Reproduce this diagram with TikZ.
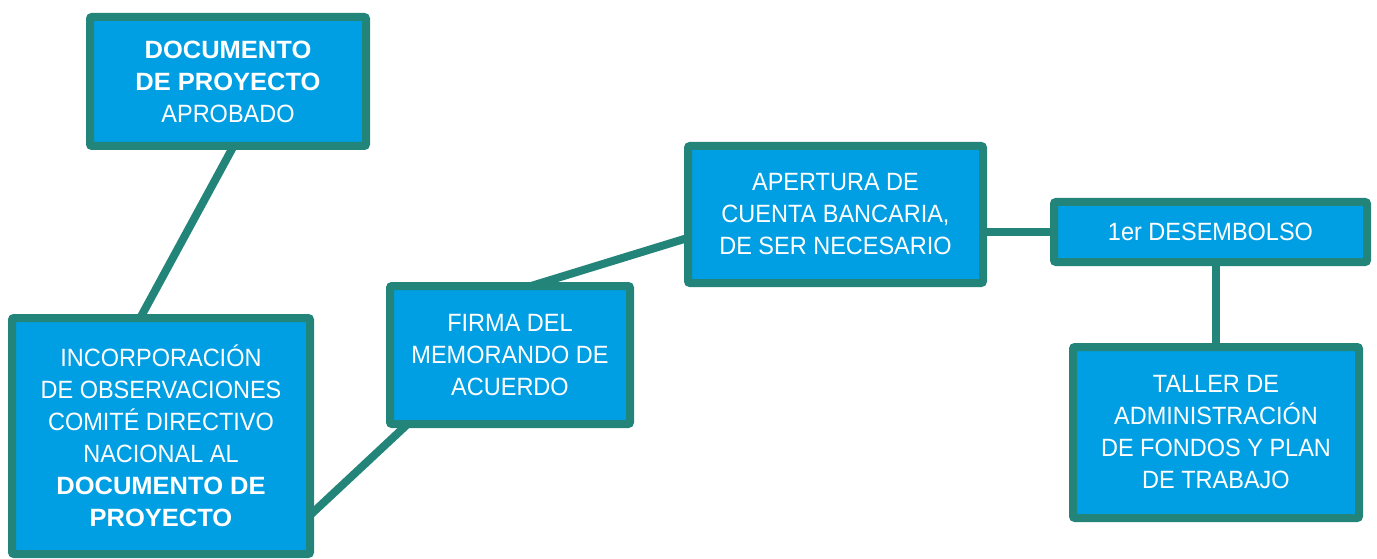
\documentclass[tikz,border=0pt]{standalone}
\usepackage{fontspec}
\setmainfont{Liberation Sans}[UprightFeatures={FakeStretch=0.94}, BoldFeatures={FakeStretch=1.02}]
\usetikzlibrary{backgrounds}
\definecolor{azul}{HTML}{009FE3}
\definecolor{verde}{HTML}{23857A}

\begin{document}
\begin{tikzpicture}[x=1pt,y=-1pt]
\tikzstyle{etapa} = [draw=verde, line width=8pt, fill=azul, rounded corners=2pt,
   text=white, align=center, inner sep=0pt, outer sep=0pt,
   font=\fontsize{25}{32}\selectfont]
\tikzstyle{enlace} = [draw=verde, line width=8pt]
\useasboundingbox (0,0) rectangle (1377,559);

\node[etapa, minimum width=276pt, minimum height=129pt] at (228,81.5) (aprobado){\textbf{DOCUMENTO}\\\textbf{DE PROYECTO}\\APROBADO};

\node[etapa, minimum width=298pt, minimum height=236pt] at (161,436) (observaciones){INCORPORACIÓN\\DE OBSERVACIONES\\COMITÉ DIRECTIVO\\NACIONAL AL\\\textbf{DOCUMENTO DE}\\\textbf{PROYECTO}};

\node[etapa, minimum width=240pt, minimum height=138pt] at (510,355) (memorando){FIRMA DEL\\MEMORANDO DE\\ACUERDO};

\node[etapa, minimum width=295pt, minimum height=137pt] at (835.5,214.5) (cuenta){APERTURA DE\\CUENTA BANCARIA,\\DE SER NECESARIO};

\node[etapa, minimum width=313pt, minimum height=60pt] at (1210.5,232) (desembolso){1er DESEMBOLSO};

\node[etapa, minimum width=286pt, minimum height=171pt] at (1216,432.5) (taller){TALLER DE\\ADMINISTRACIÓN\\DE FONDOS Y PLAN\\DE TRABAJO};

\begin{scope}[on background layer]
\draw [enlace](aprobado.-85.6) -- (observaciones.100);
\draw [enlace](memorando.214.9) -- (observaciones.-28.2);
\draw [enlace](memorando.73.8) -- (cuenta.189.8);
\draw [enlace](desembolso.west) -- (desembolso.west -| cuenta.east);
\draw [enlace](taller.north) -- (taller.north |- desembolso.south);
\end{scope}
\end{tikzpicture}
\end{document}
